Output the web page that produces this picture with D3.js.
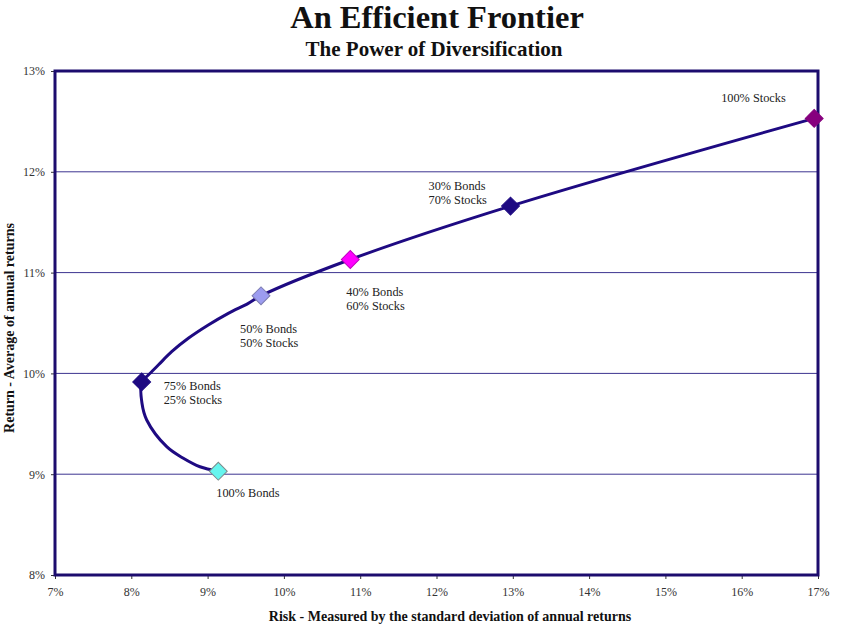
<!DOCTYPE html>
<html><head><meta charset="utf-8">
<script src="https://cdn.jsdelivr.net/npm/d3@7"></script>
<style>body{margin:0;background:#fff}</style>
</head><body>
<svg id="c" width="845" height="637"></svg>
<script>
// ---- data ----
const portfolios = ["100% Bonds","75% Bonds|25% Stocks","50% Bonds|50% Stocks","40% Bonds|60% Stocks","30% Bonds|70% Stocks","100% Stocks"];
const risk   = [9.14, 8.136, 9.70, 10.87, 12.97, 16.95];
const ret    = [9.03, 9.915, 10.77, 11.13, 11.66, 12.53];
// frontier line (markers plus points along the drawn curve)
const lineRisk = [9.14, 8.900, 8.682, 8.464, 8.202, 8.14, 8.136, 8.223, 8.354, 8.529, 8.747, 9.009, 9.271, 9.533, 9.70, 10.87, 12.97, 16.95];
const lineRet  = [9.03, 9.074, 9.158, 9.273, 9.538, 9.703, 9.915, 9.984, 10.083, 10.215, 10.348, 10.480, 10.596, 10.695, 10.77, 11.13, 11.66, 12.53];
const xTicks = [7,8,9,10,11,12,13,14,15,16,17];
const yTicks = [8,9,10,11,12,13];

// ---- styling ----
const colors = ["#66f5ee","#1e0a82","#9c9cf0","#ff00ff","#1e0a82","#86007e"];
const strokes = ["#7a8a8a","#1e0a82","#7c7cb0","#c000c0","#1e0a82","#86007e"];
const labelOff = [[-2,26],[22,8],[-21,37],[-4,37],[-82,-16],[-93,-16]];

const svg = d3.select("#c");
const m = {l:55, r:818, t:71, b:575};
const x = d3.scaleLinear().domain([7,17]).range([m.l,m.r]);
const y = d3.scaleLinear().domain([8,13]).range([m.b,m.t]);
const serif = "'Liberation Serif','Times New Roman',serif";

// gridlines
svg.append("g").selectAll("line").data(yTicks.filter(d=>d>8&&d<13)).join("line")
  .attr("x1",m.l).attr("x2",m.r).attr("y1",d=>y(d)).attr("y2",d=>y(d))
  .attr("stroke","#3c3490").attr("stroke-width",1);

// axes
const xa = svg.append("g").attr("transform",`translate(0,${m.b})`)
  .call(d3.axisBottom(x).tickValues(xTicks).tickFormat(d=>d+"%").tickSize(4).tickPadding(8));
const ya = svg.append("g").attr("transform",`translate(${m.l},0)`)
  .call(d3.axisLeft(y).tickValues(yTicks).tickFormat(d=>d+"%").tickSize(4).tickPadding(6));
[xa,ya].forEach(a=>{
  a.select(".domain").remove();
  a.selectAll("line").attr("stroke","#333");
  a.selectAll("text").attr("font-family",serif).attr("font-size",12).attr("fill","#333");
});

// frame
svg.append("rect").attr("x",m.l).attr("y",m.t).attr("width",m.r-m.l).attr("height",m.b-m.t)
  .attr("fill","none").attr("stroke","#1c0c6e").attr("stroke-width",3);

// curve
const linePts = lineRisk.map((r,i)=>[x(r),y(lineRet[i])]);
svg.append("path").attr("d",d3.line().curve(d3.curveCatmullRom.alpha(0.5))(linePts))
  .attr("fill","none").attr("stroke","#1e0a82").attr("stroke-width",3);

// markers
const pts = risk.map((r,i)=>[x(r),y(ret[i])]);
svg.append("g").selectAll("path").data(pts).join("path")
  .attr("d",d3.symbol(d3.symbolSquare,160)())
  .attr("transform",d=>`translate(${d[0]},${d[1]}) rotate(45)`)
  .attr("fill",(d,i)=>colors[i]).attr("stroke",(d,i)=>strokes[i]).attr("stroke-width",1);

// labels
portfolios.forEach((p,i)=>{
  const t = svg.append("text").attr("font-family",serif).attr("font-size",12.3).attr("fill","#222")
    .attr("x",pts[i][0]+labelOff[i][0]).attr("y",pts[i][1]+labelOff[i][1]);
  p.split("|").forEach((s,j)=>t.append("tspan").attr("x",pts[i][0]+labelOff[i][0]).attr("dy",j?13.8:0).text(s));
});

// titles
svg.append("text").attr("x",437).attr("y",28).attr("text-anchor","middle")
  .attr("font-family",serif).attr("font-weight","bold").attr("font-size",32.5).attr("fill","#111")
  .text("An Efficient Frontier");
svg.append("text").attr("x",434).attr("y",56).attr("text-anchor","middle")
  .attr("font-family",serif).attr("font-weight","bold").attr("font-size",21).attr("fill","#111")
  .text("The Power of Diversification");
svg.append("text").attr("x",450).attr("y",621).attr("text-anchor","middle")
  .attr("font-family",serif).attr("font-weight","bold").attr("font-size",14).attr("fill","#111")
  .text("Risk - Measured by the standard deviation of annual returns");
svg.append("text").attr("transform","translate(14,328) rotate(-90)").attr("text-anchor","middle")
  .attr("font-family",serif).attr("font-weight","bold").attr("font-size",14).attr("fill","#111")
  .text("Return - Average of annual returns");
</script>
</body></html>
